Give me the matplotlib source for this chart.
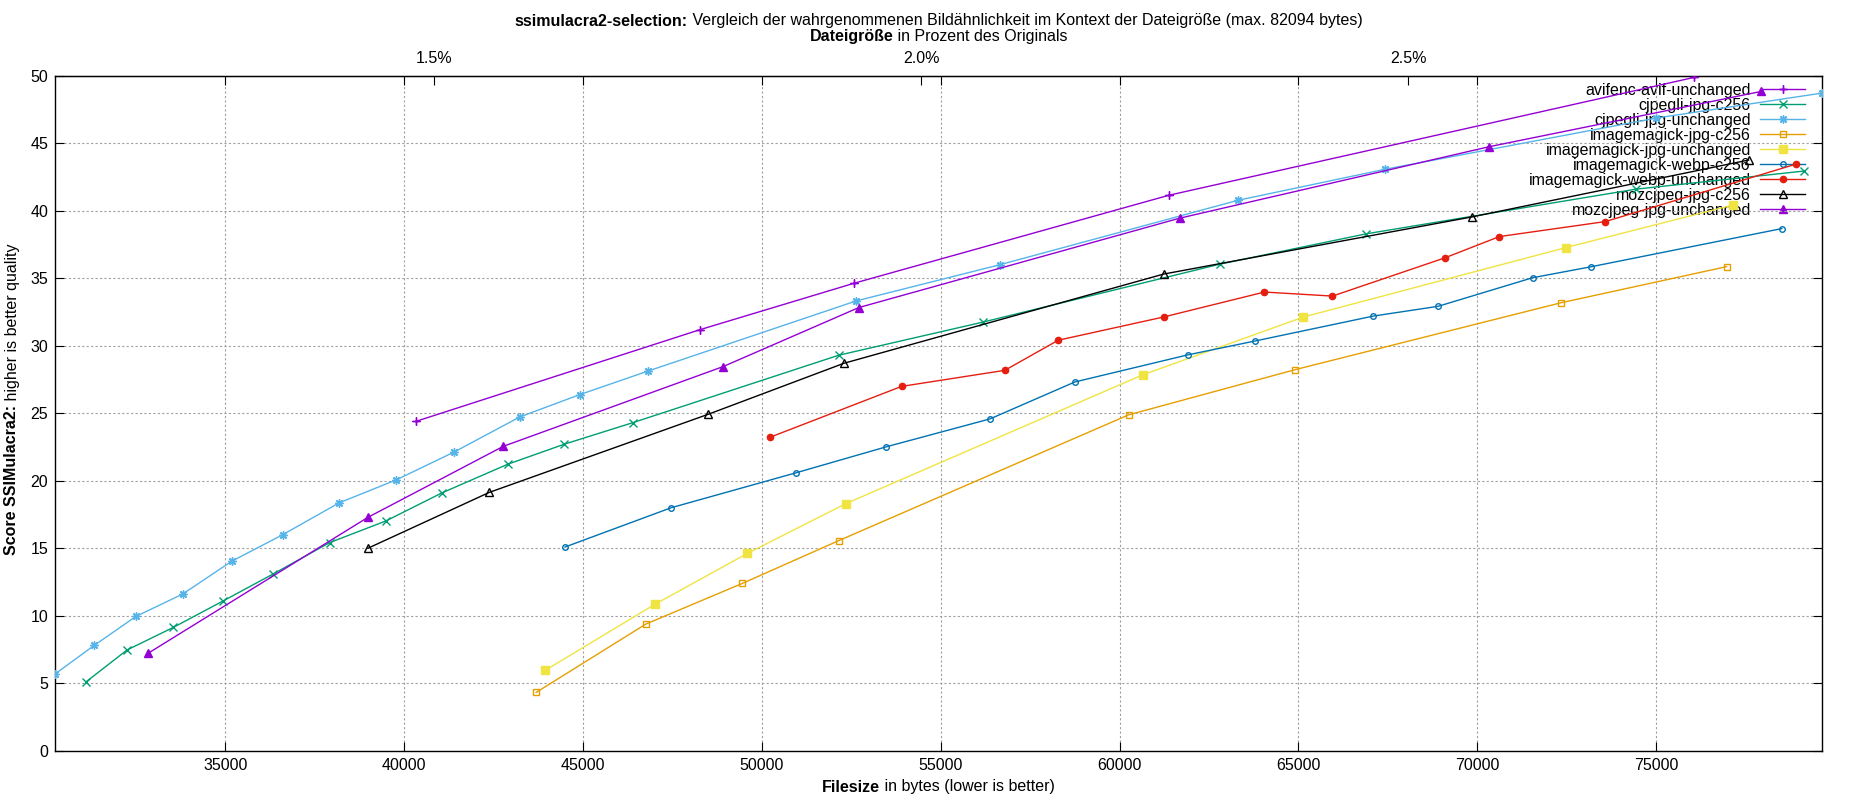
import matplotlib
matplotlib.use("Agg")
import matplotlib.pyplot as plt
from matplotlib.ticker import MultipleLocator, FixedLocator, FuncFormatter

plt.rcParams['font.family'] = ['Liberation Sans', 'DejaVu Sans']
FS = 11.5

# Werte (Dateigröße in Bytes, Score)
ORIGINAL_SIZE = 2723000

avif_unch_x = [40343, 48268, 52588, 61378, 76058]
avif_unch_y = [24.41, 31.19, 34.64, 41.15, 49.88]

cjpegli_c256_x = [31113, 32254, 33553, 34944, 36345, 37922, 39490, 41057, 42903,
                  44480, 46390, 52150, 56192, 62812, 66890, 74430, 79120]
cjpegli_c256_y = [5.11, 7.46, 9.14, 11.1, 13.1, 15.42, 17.02, 19.1, 21.23,
                  22.71, 24.3, 29.3, 31.76, 36.05, 38.29, 41.6, 42.94]

cjpegli_unch_x = [30241, 31336, 32505, 33813, 35176, 36605, 38182, 39777, 41400,
                  43237, 44910, 46811, 52635, 56648, 63315, 67430, 74981, 79635]
cjpegli_unch_y = [5.68, 7.80, 9.95, 11.61, 14.03, 16.0, 18.36, 20.06, 22.13,
                  24.73, 26.38, 28.12, 33.32, 36.0, 40.78, 43.08, 46.86, 48.72]

im_jpg_c256_x = [43692, 46756, 49451, 52156, 60251, 64907, 72331, 76966]
im_jpg_c256_y = [4.32, 9.38, 12.39, 15.57, 24.88, 28.23, 33.18, 35.86]

im_jpg_unch_x = [43942, 47006, 49591, 52345, 60642, 65140, 72472, 77135]
im_jpg_unch_y = [5.95, 10.84, 14.61, 18.3, 27.84, 32.13, 37.27, 40.42]

im_webp_c256_x = [44498, 47465, 50958, 53473, 56377, 58752, 61899, 63799,
                  67095, 68900, 71545, 73174, 78511]
im_webp_c256_y = [15.09, 18.0, 20.59, 22.51, 24.58, 27.32, 29.32, 30.36,
                  32.2, 32.92, 35.04, 35.85, 38.68]

im_webp_unch_x = [50227, 53906, 56792, 58285, 61229, 64050, 65950, 69101,
                  70618, 73577, 78913]
im_webp_unch_y = [23.22, 26.99, 28.18, 30.41, 32.13, 33.98, 33.68, 36.52,
                  38.09, 39.2, 43.46]

moz_c256_x = [38989, 42384, 48497, 52292, 61229, 69860, 77584]
moz_c256_y = [15.0, 19.14, 24.92, 28.7, 35.31, 39.55, 43.76]

moz_unch_x = [32839, 38989, 42773, 48911, 52710, 61676, 70337, 77930]
moz_unch_y = [7.21, 17.29, 22.55, 28.45, 32.83, 39.45, 44.75, 48.84]

# Name, x, y, Farbe, Marker, gefüllt, Markergröße
series = [
    ("avifenc-avif-unchanged", avif_unch_x, avif_unch_y, '#9400d3', (4, 2, 0), True, 6),
    ("cjpegli-jpg-c256", cjpegli_c256_x, cjpegli_c256_y, '#009e73', 'x', True, 5.5),
    ("cjpegli-jpg-unchanged", cjpegli_unch_x, cjpegli_unch_y, '#56b4e9', (8, 2, 0), True, 6),
    ("imagemagick-jpg-c256", im_jpg_c256_x, im_jpg_c256_y, '#e69f00', 's', False, 5),
    ("imagemagick-jpg-unchanged", im_jpg_unch_x, im_jpg_unch_y, '#f0e442', 's', True, 5.5),
    ("imagemagick-webp-c256", im_webp_c256_x, im_webp_c256_y, '#0072b2', 'o', False, 4),
    ("imagemagick-webp-unchanged", im_webp_unch_x, im_webp_unch_y, '#e51e10', 'o', True, 4.5),
    ("mozcjpeg-jpg-c256", moz_c256_x, moz_c256_y, 'black', '^', False, 5.5),
    ("mozcjpeg-jpg-unchanged", moz_unch_x, moz_unch_y, '#9400d3', '^', True, 6),
]

fig = plt.figure(figsize=(18.5, 8), dpi=100)
W, H = 1850, 800
ax = fig.add_axes([55 / W, 1 - 750.7 / H, (1822 - 55) / W, (750.7 - 75.8) / H])

for name, xs, ys, col, mk, filled, ms in series:
    ax.plot(xs, ys, color=col, lw=1.0, marker=mk, markersize=ms,
            markerfacecolor=col if filled else 'none', markeredgecolor=col,
            markeredgewidth=1.0, label=name, zorder=3)

all_x = [v for s in series for v in s[1]]
ax.set_xlim(min(all_x), max(all_x))
ax.set_ylim(0, 50)
ax.xaxis.set_major_locator(MultipleLocator(5000))
ax.yaxis.set_major_locator(MultipleLocator(5))
ax.grid(True, color='#a0a0a0', linestyle=(0, (2, 2)), linewidth=0.8)
ax.tick_params(direction='in', length=6.5, width=0.8, labelsize=FS,
               top=True, right=True, color='black')
ax.tick_params(axis='x', pad=5)
ax.tick_params(axis='y', pad=5)
for sp in ax.spines.values():
    sp.set_linewidth(1.0)

sec = ax.secondary_xaxis('top', functions=(lambda b: b / ORIGINAL_SIZE * 100,
                                           lambda p: p * ORIGINAL_SIZE / 100))
sec.xaxis.set_major_locator(FixedLocator([1.5, 2.0, 2.5]))
sec.xaxis.set_major_formatter(FuncFormatter(lambda v, p: f"{v:.1f}%"))
sec.tick_params(direction='in', length=6.5, width=0.8, labelsize=FS, pad=7)

leg = ax.legend(loc='upper right', bbox_to_anchor=(1 - 12 / 1767, 1 - 2 / 675),
                frameon=False, markerfirst=False, fontsize=FS, handlelength=2.8,
                handletextpad=0.6, labelspacing=0.0, borderaxespad=0.1, borderpad=0.2)
leg.set_zorder(1)


def mixed(x, y, parts, rot=0):
    r = fig.canvas.get_renderer()
    arts = [fig.text(0, 0, s, fontweight=w, fontsize=FS, rotation=rot, ha='left',
                     va='center', rotation_mode='anchor') for s, w in parts]
    sizes = []
    for a in arts:
        bb = a.get_window_extent(r)
        sizes.append(bb.width if rot == 0 else bb.height)
    pos = (x * W if rot == 0 else y * H) - sum(sizes) / 2
    for a, s in zip(arts, sizes):
        if rot == 0:
            a.set_position((pos / W, y))
        else:
            a.set_position((x, pos / H))
        pos += s


cx = (55 + 1822) / 2 / W
mixed(cx, 1 - 21 / H, [("ssimulacra2-selection:", 'bold'),
                       (" Vergleich der wahrgenommenen Bildähnlichkeit im Kontext der Dateigröße (max. 82094 bytes)", 'normal')])
mixed(cx, 1 - 37 / H, [("Dateigröße", 'bold'), (" in Prozent des Originals", 'normal')])
mixed(cx, 1 - 787 / H, [("Filesize", 'bold'), (" in bytes (lower is better)", 'normal')])
mixed(12 / W, 1 - 399 / H, [("Score SSIMulacra2:", 'bold'), (" higher is better quality", 'normal')], rot=90)

fig.savefig("out.png", dpi=100)
